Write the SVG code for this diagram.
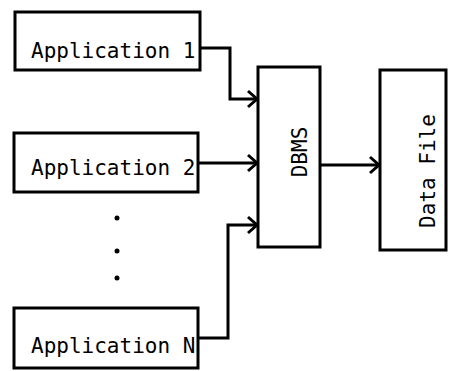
<svg xmlns="http://www.w3.org/2000/svg" width="450" height="371" viewBox="0 0 450 371">
<defs>
<style>
.box{fill:#fff;stroke:#000;stroke-width:3}
.lbl{font-family:"DejaVu Sans Mono","Liberation Mono",monospace;font-size:21px;fill:#000}
.con{fill:none;stroke:#000;stroke-width:3}
</style>
<marker id="arr" markerUnits="userSpaceOnUse" markerWidth="14" markerHeight="20" refX="10" refY="10" orient="auto" viewBox="0 0 14 20">
<path d="M1,2 L10,10 L1,18" fill="none" stroke="#000" stroke-width="3"/>
</marker>
</defs>
<g id="connectors">
<path class="con" d="M200,48 H230 V99 H257" marker-end="url(#arr)"/>
<path class="con" d="M198,163 H257" marker-end="url(#arr)"/>
<path class="con" d="M198,338 H228 V225 H257" marker-end="url(#arr)"/>
<path class="con" d="M320,165 H379" marker-end="url(#arr)"/>
</g>
<g id="app1">
<rect class="box" x="15" y="12" width="185" height="58"/>
<text class="lbl" x="31" y="58">Application 1</text>
</g>
<g id="app2">
<rect class="box" x="14" y="133" width="184" height="59"/>
<text class="lbl" x="31" y="175">Application 2</text>
</g>
<g id="dots">
<circle cx="117" cy="218" r="2.5" fill="#000"/>
<circle cx="117" cy="251" r="2.5" fill="#000"/>
<circle cx="117" cy="278" r="2.5" fill="#000"/>
</g>
<g id="appN">
<rect class="box" x="14" y="308" width="184" height="60"/>
<text class="lbl" x="31" y="353">Application N</text>
</g>
<g id="dbms">
<rect class="box" x="258" y="67" width="62" height="180"/>
<text class="lbl" transform="translate(307,152) rotate(-90)" text-anchor="middle" font-size="20">DBMS</text>
</g>
<g id="datafile">
<rect class="box" x="380" y="70" width="66" height="180"/>
<text class="lbl" transform="translate(435,171) rotate(-90)" text-anchor="middle">Data File</text>
</g>
</svg>
